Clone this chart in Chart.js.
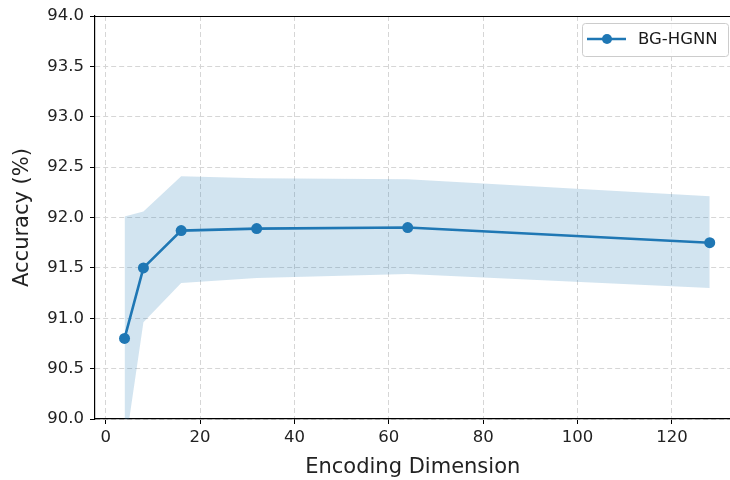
<!DOCTYPE html>
<html>
<head>
<meta charset="utf-8">
<script src="https://cdn.jsdelivr.net/npm/chart.js@4.4.1/dist/chart.umd.min.js"></script>
<style>
  html, body { margin: 0; padding: 0; background: #fff; overflow: hidden; }
  #wrap { width: 730px; height: 480px; overflow: hidden; }
</style>
</head>
<body>
<div id="wrap"><canvas id="chart" width="736" height="480"></canvas></div>
<script>
// data
const dims = [4, 8, 16, 32, 64, 128];
const accMean = [90.80, 91.50, 91.87, 91.89, 91.90, 91.75];
const accUpper = [92.01, 92.06, 92.41, 92.39, 92.38, 92.21];
const accLower = [89.68, 90.96, 91.35, 91.40, 91.44, 91.30];
const xTicks = [0, 20, 40, 60, 80, 100, 120];
const seriesName = 'BG-HGNN';

const blue = '#1f77b4';
const gridColor = '#d6d6d6';
const font = 'DejaVu Sans, sans-serif';

const pts = ys => dims.map((x, i) => ({ x, y: ys[i] }));

// matplotlib-style top spine + legend box
const frame = {
    id: 'frame',
    afterDraw(chart) {
        const { ctx, chartArea: a } = chart;
        ctx.save();
        ctx.strokeStyle = '#000';
        ctx.lineWidth = 1.1;
        ctx.beginPath();
        ctx.moveTo(a.left, a.top + 0.5);
        ctx.lineTo(736, a.top + 0.5);
        ctx.stroke();

        const lx = 582, ly = 23, lw = 146, lh = 33;
        ctx.fillStyle = 'rgba(255,255,255,0.8)';
        ctx.strokeStyle = '#cccccc';
        ctx.lineWidth = 1;
        ctx.beginPath();
        ctx.roundRect(lx + 0.5, ly + 0.5, lw, lh, 3);
        ctx.fill();
        ctx.stroke();
        const cy = ly + 16;
        ctx.strokeStyle = blue;
        ctx.lineWidth = 2.6;
        ctx.beginPath();
        ctx.moveTo(587, cy);
        ctx.lineTo(626, cy);
        ctx.stroke();
        ctx.fillStyle = blue;
        ctx.beginPath();
        ctx.arc(607, cy, 5, 0, Math.PI * 2);
        ctx.fill();
        ctx.fillStyle = '#1a1a1a';
        ctx.font = '16.5px ' + font;
        ctx.textBaseline = 'middle';
        ctx.fillText(chart.data.datasets[0].label, 638, cy + 1);
        ctx.restore();
    }
};

new Chart(document.getElementById('chart'), {
    type: 'line',
    data: {
        datasets: [
            {
                label: seriesName, data: pts(accMean), order: 0,
                borderColor: blue, backgroundColor: blue, borderWidth: 2.6,
                pointRadius: 5.5, pointHoverRadius: 5.5, pointBackgroundColor: blue,
                pointBorderWidth: 0, fill: false, tension: 0
            },
            {
                label: 'upper', data: pts(accUpper), order: 1,
                borderWidth: 0, pointRadius: 0, fill: '+1',
                backgroundColor: 'rgba(31,119,180,0.2)', tension: 0
            },
            {
                label: 'lower', data: pts(accLower), order: 2,
                borderWidth: 0, pointRadius: 0, fill: false, tension: 0
            }
        ]
    },
    options: {
        responsive: false,
        animation: false,
        events: [],
        layout: { padding: { top: 16, right: 0, bottom: 0, left: 0 } },
        plugins: { legend: { display: false }, tooltip: { enabled: false } },
        scales: {
            x: {
                type: 'linear', min: -2.26, max: 132.4,
                afterBuildTicks: s => { s.ticks = xTicks.map(v => ({ value: v })); },
                afterFit: s => { s.height = 61; },
                grid: { color: gridColor, tickColor: '#000', tickLength: 5, tickBorderDash: [], lineWidth: 1 },
                border: { color: '#000', width: 1.2, dash: [5, 3] },
                ticks: { color: '#222', font: { family: font, size: 16.5 }, padding: 4, maxRotation: 0 },
                title: { display: true, text: 'Encoding Dimension', color: '#222', font: { family: font, size: 21 }, padding: { top: 4, bottom: 0 } }
            },
            y: {
                min: 90, max: 94,
                ticks: { stepSize: 0.5, color: '#222', font: { family: font, size: 16.5 }, padding: 6,
                    callback: v => v.toFixed(1) },
                afterFit: s => { s.width = 95; },
                grid: { color: gridColor, tickColor: '#000', tickLength: 5, tickBorderDash: [], lineWidth: 1 },
                border: { color: '#000', width: 1.2, dash: [5, 3] },
                title: { display: true, text: 'Accuracy (%)', color: '#222', font: { family: font, size: 21 }, padding: { top: 10, bottom: 2 } }
            }
        }
    },
    plugins: [frame]
});
</script>
</body>
</html>
